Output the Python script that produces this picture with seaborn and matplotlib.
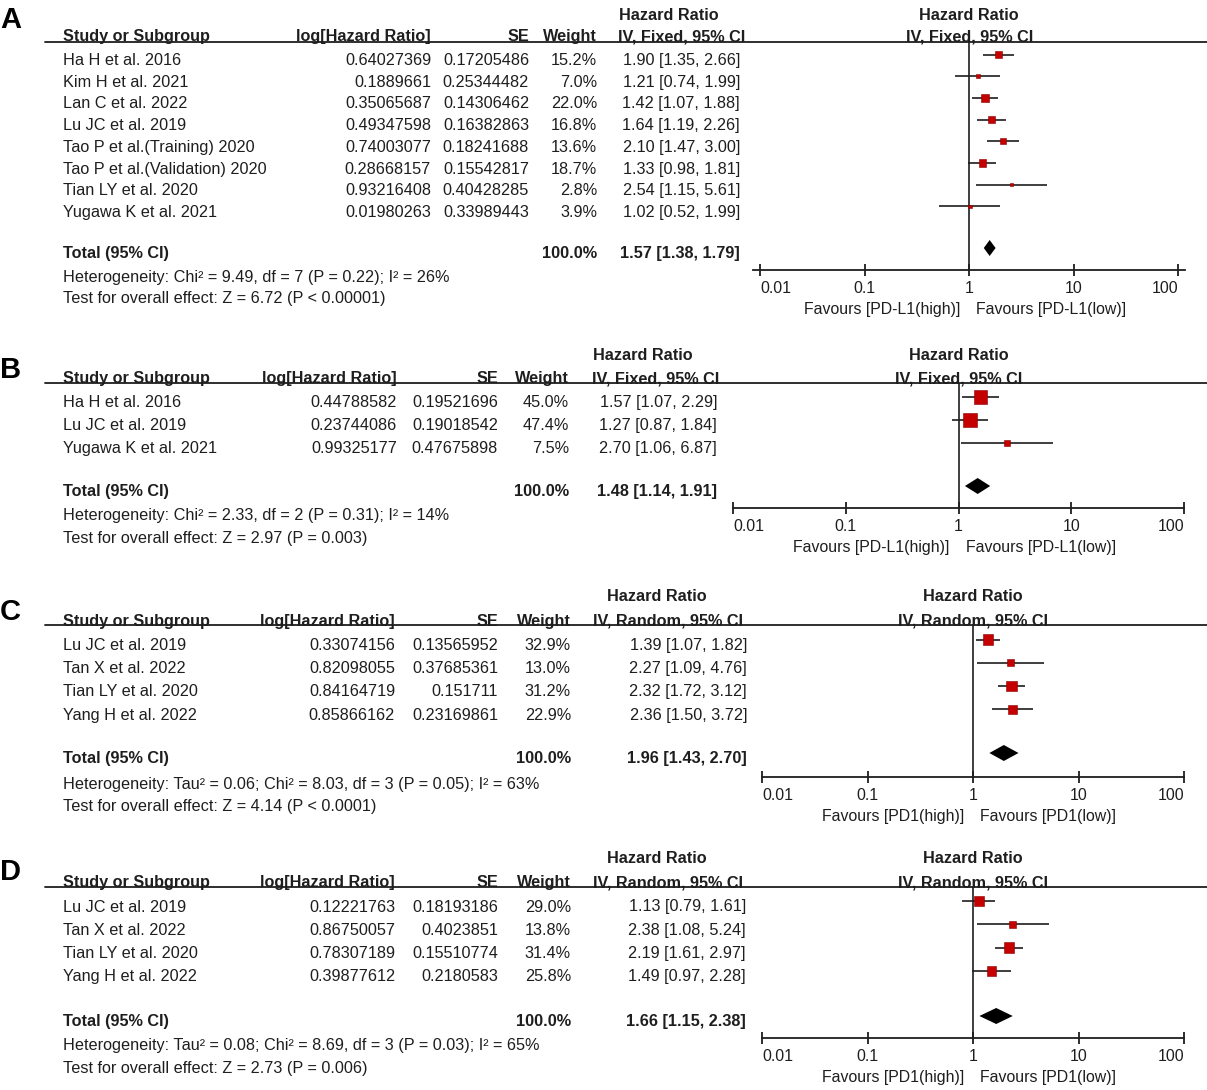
import numpy as np
import pandas as pd
import matplotlib
matplotlib.use("Agg")
import matplotlib.pyplot as plt
import matplotlib.transforms as mtransforms
from matplotlib.ticker import NullLocator
import seaborn as sns

sns.set_style("white")
plt.rcParams["font.family"] = ["Liberation Sans", "DejaVu Sans"]

W, H = 1207, 1090
INK = "#1e1e1e"
RED = "#c40000"
FS = 11.7

# ---- panel A: PD-L1, fixed effect ----
a_studies = ["Ha H et al. 2016", "Kim H et al. 2021", "Lan C et al. 2022", "Lu JC et al. 2019",
             "Tao P et al.(Training) 2020", "Tao P et al.(Validation) 2020",
             "Tian LY et al. 2020", "Yugawa K et al. 2021"]
a_loghr = [0.64027369, 0.1889661, 0.35065687, 0.49347598, 0.74003077, 0.28668157, 0.93216408, 0.01980263]
a_se = [0.17205486, 0.25344482, 0.14306462, 0.16382863, 0.18241688, 0.15542817, 0.40428285, 0.33989443]
a_weight = [15.2, 7.0, 22.0, 16.8, 13.6, 18.7, 2.8, 3.9]
a_hr = [1.90, 1.21, 1.42, 1.64, 2.10, 1.33, 2.54, 1.02]
a_lo = [1.35, 0.74, 1.07, 1.19, 1.47, 0.98, 1.15, 0.52]
a_hi = [2.66, 1.99, 1.88, 2.26, 3.00, 1.81, 5.61, 1.99]
a_total = [1.57, 1.38, 1.79]
a_het = "Heterogeneity: Chi² = 9.49, df = 7 (P = 0.22); I² = 26%"
a_test = "Test for overall effect: Z = 6.72 (P < 0.00001)"

# ---- panel B: PD-L1, fixed effect ----
b_studies = ["Ha H et al. 2016", "Lu JC et al. 2019", "Yugawa K et al. 2021"]
b_loghr = [0.44788582, 0.23744086, 0.99325177]
b_se = [0.19521696, 0.19018542, 0.47675898]
b_weight = [45.0, 47.4, 7.5]
b_hr = [1.57, 1.27, 2.70]
b_lo = [1.07, 0.87, 1.06]
b_hi = [2.29, 1.84, 6.87]
b_total = [1.48, 1.14, 1.91]
b_het = "Heterogeneity: Chi² = 2.33, df = 2 (P = 0.31); I² = 14%"
b_test = "Test for overall effect: Z = 2.97 (P = 0.003)"

# ---- panel C: PD1, random effects ----
c_studies = ["Lu JC et al. 2019", "Tan X et al. 2022", "Tian LY et al. 2020", "Yang H et al. 2022"]
c_loghr = [0.33074156, 0.82098055, 0.84164719, 0.85866162]
c_se = [0.13565952, 0.37685361, 0.151711, 0.23169861]
c_weight = [32.9, 13.0, 31.2, 22.9]
c_hr = [1.39, 2.27, 2.32, 2.36]
c_lo = [1.07, 1.09, 1.72, 1.50]
c_hi = [1.82, 4.76, 3.12, 3.72]
c_total = [1.96, 1.43, 2.70]
c_het = "Heterogeneity: Tau² = 0.06; Chi² = 8.03, df = 3 (P = 0.05); I² = 63%"
c_test = "Test for overall effect: Z = 4.14 (P < 0.0001)"

# ---- panel D: PD1, random effects ----
d_studies = ["Lu JC et al. 2019", "Tan X et al. 2022", "Tian LY et al. 2020", "Yang H et al. 2022"]
d_loghr = [0.12221763, 0.86750057, 0.78307189, 0.39877612]
d_se = [0.18193186, 0.4023851, 0.15510774, 0.2180583]
d_weight = [29.0, 13.8, 31.4, 25.8]
d_hr = [1.13, 2.38, 2.19, 1.49]
d_lo = [0.79, 1.08, 1.61, 0.97]
d_hi = [1.61, 5.24, 2.97, 2.28]
d_total = [1.66, 1.15, 2.38]
d_het = "Heterogeneity: Tau² = 0.08; Chi² = 8.69, df = 3 (P = 0.03); I² = 65%"
d_test = "Test for overall effect: Z = 2.73 (P = 0.006)"

ticks = [0.01, 0.1, 1, 10, 100]
tick_labels = ["0.01", "0.1", "1", "10", "100"]

panels = [
    dict(label="A", model="Fixed", fav=("PD-L1(high)", "PD-L1(low)"), studies=a_studies, loghr=a_loghr, se=a_se,
         weight=a_weight, hr=a_hr, lo=a_lo, hi=a_hi, total=a_total, het=a_het, test=a_test),
    dict(label="B", model="Fixed", fav=("PD-L1(high)", "PD-L1(low)"), studies=b_studies, loghr=b_loghr, se=b_se,
         weight=b_weight, hr=b_hr, lo=b_lo, hi=b_hi, total=b_total, het=b_het, test=b_test),
    dict(label="C", model="Random", fav=("PD1(high)", "PD1(low)"), studies=c_studies, loghr=c_loghr, se=c_se,
         weight=c_weight, hr=c_hr, lo=c_lo, hi=c_hi, total=c_total, het=c_het, test=c_test),
    dict(label="D", model="Random", fav=("PD1(high)", "PD1(low)"), studies=d_studies, loghr=d_loghr, se=d_se,
         weight=d_weight, hr=d_hr, lo=d_lo, hi=d_hi, total=d_total, het=d_het, test=d_test),
]

# layout, in pixels from the top-left corner of the figure
layouts = [
    dict(row0=54.5, step=21.7, txt_dy=4.5, line=42, head=35, top=14, total=248, axis=270, het=276, test=297,
         ax_x=(753, 1185), dec=(-2.067, 2.064), loghr_r=431, se_r=529, w_r=597, hrh_l=619, ivh_l=618,
         ci_r=740, lab=28, k=1.65),
    dict(row0=397, step=23.0, txt_dy=4.0, line=383, head=377, top=354, total=486, axis=508, het=514, test=537,
         ax_x=(733, 1184), dec=(-2, 2), loghr_r=397, se_r=498, w_r=569, hrh_l=593, ivh_l=592,
         ci_r=717, lab=378, k=2.0),
    dict(row0=639.5, step=23.2, txt_dy=4.5, line=625, head=620, top=595, total=753, axis=777, het=783, test=805,
         ax_x=(762, 1184), dec=(-2, 2), loghr_r=395, se_r=498, w_r=571, hrh_l=607, ivh_l=593,
         ci_r=747, lab=620, k=1.85),
    dict(row0=901, step=23.3, txt_dy=4.5, line=887, head=881, top=857, total=1016, axis=1038, het=1044, test=1067,
         ax_x=(762, 1184), dec=(-2, 2), loghr_r=395, se_r=498, w_r=571, hrh_l=607, ivh_l=593,
         ci_r=746, lab=880, k=1.85),
]

fig = plt.figure(figsize=(W / 100, H / 100), dpi=100)


def draw_panel(p, lay):
    n = len(p["studies"])
    row0, step = lay["row0"], lay["step"]

    def to_y(px):
        return (px - row0) / step

    left, right = lay["ax_x"]
    ax = fig.add_axes([left / W, 1 - lay["axis"] / H, (right - left) / W, (lay["axis"] - lay["line"]) / H])
    ax.set_xscale("log")

    df = pd.DataFrame({"hr": p["hr"], "lo": p["lo"], "hi": p["hi"],
                       "weight": p["weight"], "row": np.arange(n)})
    ax.hlines(df["row"], df["lo"], df["hi"], color=INK, lw=1.2, zorder=2)
    c = (lay["k"] * 0.72) ** 2
    sns.scatterplot(data=df, x="hr", y="row", size="weight", sizes=(0, c * 100), size_norm=(0, 100),
                    marker="s", color=RED, edgecolor="#8a0000", linewidth=0.4, legend=False, ax=ax, zorder=3)

    # pooled estimate diamond
    thr, tlo, thi = p["total"]
    yt = to_y(lay["total"])
    h = 8 / step
    ax.fill([tlo, thr, thi, thr], [yt, yt - h, yt, yt + h], color="black", lw=0, zorder=3)

    ax.axvline(1, color=INK, lw=1.2, zorder=1)
    ax.set_xlim(10 ** lay["dec"][0], 10 ** lay["dec"][1])
    ax.set_ylim(to_y(lay["axis"]), to_y(lay["line"]))
    for s in ["top", "right", "left"]:
        ax.spines[s].set_visible(False)
    ax.spines["bottom"].set_color(INK)
    ax.spines["bottom"].set_linewidth(1.3)
    ax.set_xticks(ticks, labels=tick_labels)
    ax.xaxis.set_minor_locator(NullLocator())
    ax.tick_params(axis="x", bottom=True, direction="inout", length=8, width=1.3, color=INK,
                   labelsize=FS - 0.3, labelcolor=INK, pad=4)
    tl = ax.get_xticklabels()
    tl[0].set_ha("left")
    tl[-1].set_ha("right")
    ax.set_yticks([])
    ax.set_xlabel("")
    ax.set_ylabel("")

    tr = mtransforms.blended_transform_factory(fig.transFigure, ax.transData)
    base = 6  # visual centre -> baseline

    def put(xpx, ypx, s, ha="left", bold=False):
        ax.text(xpx / W, to_y(ypx + base), s, transform=tr, ha=ha, va="baseline", fontsize=FS,
                color=INK, fontweight="bold" if bold else "normal")

    # headers
    put(lay["hrh_l"], lay["top"], "Hazard Ratio", bold=True)
    put(63, lay["head"], "Study or Subgroup", bold=True)
    put(lay["loghr_r"], lay["head"], "log[Hazard Ratio]", ha="right", bold=True)
    put(lay["se_r"], lay["head"], "SE", ha="right", bold=True)
    put(lay["w_r"], lay["head"], "Weight", ha="right", bold=True)
    put(lay["ivh_l"], lay["head"], f"IV, {p['model']}, 95% CI", bold=True)
    for txt, ypx in [("Hazard Ratio", lay["top"]), (f"IV, {p['model']}, 95% CI", lay["head"])]:
        ax.text(1, to_y(ypx + base), txt, ha="center", va="baseline", fontsize=FS, color=INK,
                fontweight="bold")
    ax.plot([45 / W, 1.0], [to_y(lay["line"])] * 2, transform=tr, color=INK, lw=1.3, clip_on=False)

    # study rows
    for i in range(n):
        ypx = row0 + i * step + lay["txt_dy"]
        put(63, ypx, p["studies"][i])
        put(lay["loghr_r"], ypx, str(p["loghr"][i]), ha="right")
        put(lay["se_r"], ypx, str(p["se"][i]), ha="right")
        put(lay["w_r"], ypx, f"{p['weight'][i]:.1f}%", ha="right")
        put(lay["ci_r"], ypx, f"{p['hr'][i]:.2f} [{p['lo'][i]:.2f}, {p['hi'][i]:.2f}]", ha="right")

    ytt = lay["total"] + 4
    put(63, ytt, "Total (95% CI)", bold=True)
    put(lay["w_r"], ytt, "100.0%", ha="right", bold=True)
    put(lay["ci_r"], ytt, f"{thr:.2f} [{tlo:.2f}, {thi:.2f}]", ha="right", bold=True)
    put(63, lay["het"], p["het"])
    put(63, lay["test"], p["test"])

    xa = ax.get_xaxis_transform()
    ax.annotate(f"Favours [{p['fav'][0]}]", xy=(1, 0), xycoords=xa, xytext=(-9, -44),
                textcoords="offset pixels", ha="right", va="baseline", fontsize=FS - 0.3, color=INK)
    ax.annotate(f"Favours [{p['fav'][1]}]", xy=(1, 0), xycoords=xa, xytext=(7, -44),
                textcoords="offset pixels", ha="left", va="baseline", fontsize=FS - 0.3, color=INK)

    fig.text(0.0, 1 - lay["lab"] / H, p["label"], fontsize=21, fontweight="bold", ha="left",
             va="baseline", color="black")


for p, lay in zip(panels, layouts):
    draw_panel(p, lay)

fig.savefig("out.png", dpi=100)
